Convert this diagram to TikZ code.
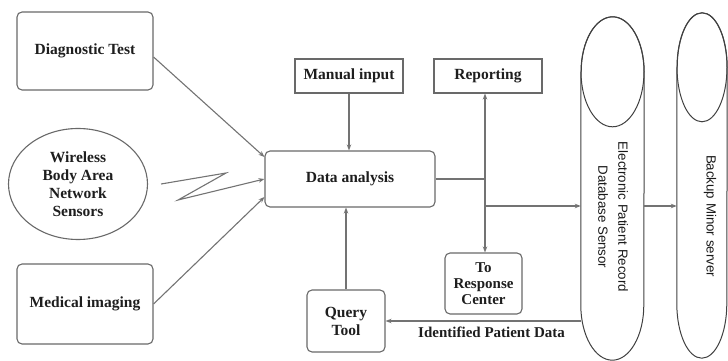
\documentclass[tikz,border=0pt]{standalone}
\usepackage{fontspec}
\setmainfont{Liberation Serif}
\setsansfont{Liberation Sans}
\usepackage{xcolor}
\usepackage{tikz}
\usetikzlibrary{shapes,arrows.meta,positioning,calc}

\definecolor{wireg}{RGB}{115,115,115}
\definecolor{boxg}{RGB}{105,105,105}
\definecolor{inkg}{RGB}{30,30,30}

\begin{document}
\begin{tikzpicture}[x=1pt, y=1pt,
    box/.style={draw=boxg, line width=1.1pt, fill=white, inner sep=0pt, align=center,
        font=\fontsize{15.5}{18}\selectfont\bfseries, text=inkg},
    roundbox/.style={box, rounded corners=5pt},
    wire/.style={draw=wireg, line width=1.1pt},
    arrow/.style={wire, -{Stealth[length=6pt, width=4.5pt]}},
    dbline/.style={draw=black!75, line width=1pt},
    dbtext/.style={font=\sffamily\fontsize{13.3}{20}\selectfont, text=black!90, align=center, rotate=-90}]
    \useasboundingbox (0,0) rectangle (728,361);

    % Sources
    \node[roundbox, minimum width=136, minimum height=78] (diag) at (85,310) {Diagnostic Test};
    \node[box, ellipse, minimum width=139, minimum height=111] (wban) at (78,177) {Wireless\\Body Area\\Network\\Sensors};
    \node[roundbox, minimum width=136, minimum height=80] (medimg) at (85,57) {Medical imaging};

    % Analysis
    \node[roundbox, minimum width=170, minimum height=56] (data) at (350,182) {Data analysis};
    \node[box, minimum width=108, minimum height=34] (manual) at (349,285) {Manual input};
    \node[box, minimum width=108, minimum height=34] (report) at (488,285) {Reporting};
    \node[roundbox, minimum width=77, minimum height=61, font=\fontsize{15}{16}\selectfont\bfseries] (response) at (483.5,77.5) {To\\Response\\Center};
    \node[roundbox, minimum width=78, minimum height=62] (query) at (346,40) {Query\\Tool};

    % Database sensor
    \node[minimum width=63, minimum height=343, inner sep=0pt] (epr) at (612.5,172.5) {};
    \draw[dbline] ([yshift=-55pt]epr.north west) -- ([yshift=55pt]epr.south west)
        arc[start angle=180, end angle=360, x radius=31.5, y radius=55]
        -- ([yshift=-55pt]epr.north east)
        arc[start angle=0, end angle=180, x radius=31.5, y radius=55];
    \draw[dbline] ([yshift=-55pt]epr.north) ellipse[x radius=31.5, y radius=55];
    \node[dbtext] (eprlabel) at (613,144) {Electronic Patient Record\\Database Sensor};

    % Backup server
    \node[minimum width=50, minimum height=345, inner sep=0pt] (backup) at (702,175.5) {};
    \draw[dbline] ([yshift=-54.5pt]backup.north west) -- ([yshift=54.5pt]backup.south west)
        arc[start angle=180, end angle=360, x radius=25, y radius=54.5]
        -- ([yshift=-54.5pt]backup.north east)
        arc[start angle=0, end angle=180, x radius=25, y radius=54.5];
    \draw[dbline] ([yshift=-54.5pt]backup.north) ellipse[x radius=25, y radius=54.5];
    \node[dbtext] (backuplabel) at (710,145) {Backup Minor server};

    % Inputs
    \draw[arrow] ([yshift=-6pt]diag.east) -- ([yshift=22pt]data.west);
    \draw[arrow] ([xshift=13pt]wban.east) -- ++(65,11) -- ++(-48,-27) -- (data.west);
    \draw[arrow] (medimg.east) -- ([yshift=-18pt]data.west);
    \draw[arrow] (manual.south) -- (manual.south |- data.north);
    \draw[arrow] (query.north) -- (query.north |- data.south);

    % Outputs
    \coordinate (bus) at (485,182);
    \coordinate (tap) at (485,155);
    \draw[wire] (data.east) -- (bus);
    \draw[arrow] (bus) -- (bus |- report.south);
    \draw[arrow] (bus) -- (bus |- response.north);
    \draw[arrow] (tap) -- (tap -| epr.west);
    \draw[arrow] (tap -| epr.east) -- (tap -| backup.west);
    \draw[arrow] (query.east -| epr.west) -- (query.east)
        node[pos=0.457, below=5pt, inner sep=0pt, font=\fontsize{15}{18}\selectfont\bfseries, text=inkg] (idlabel) {Identified Patient Data};
\end{tikzpicture}
\end{document}
